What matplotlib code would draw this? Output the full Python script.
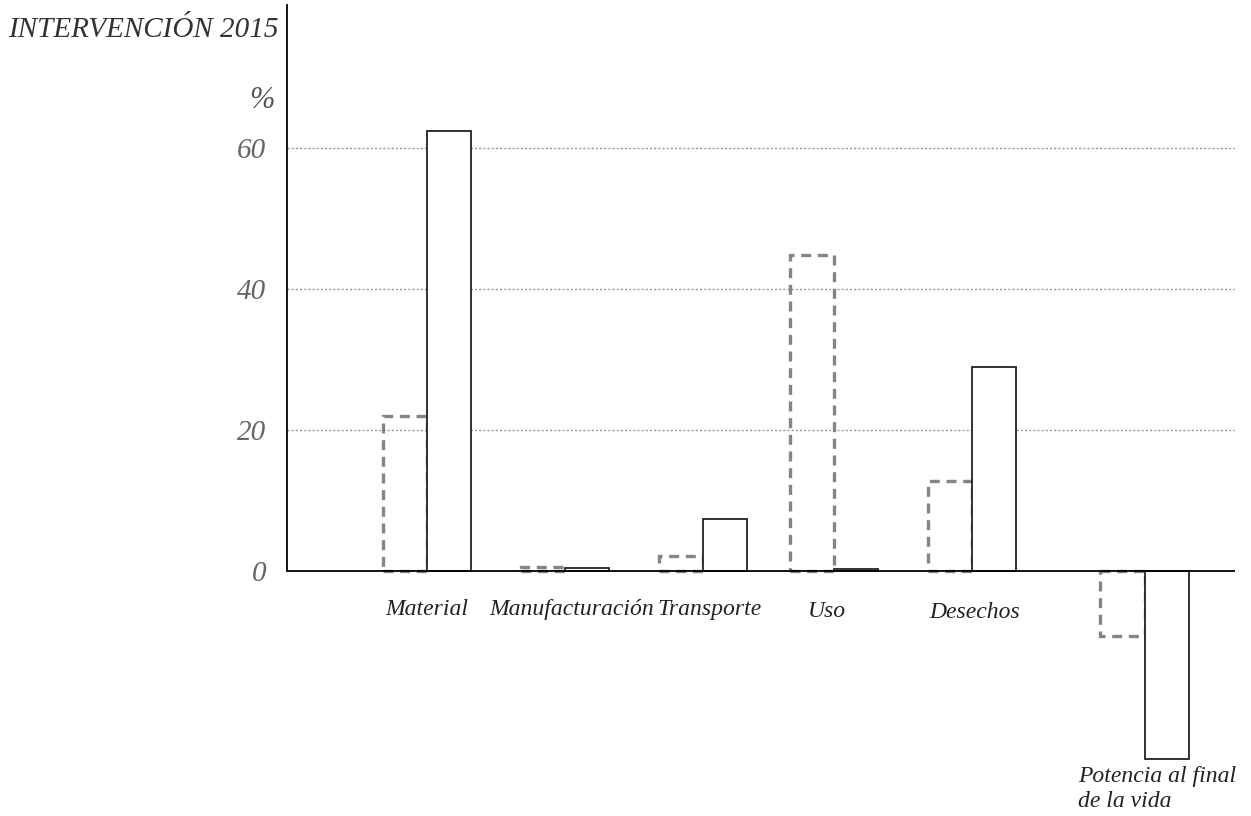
#! /usr/bin/env python3

import matplotlib
matplotlib.use("Agg")
import matplotlib.pyplot as plt

categories = ["Material", "Manufacturación", "Transporte", "Uso", "Desechos",
              "Potencia al final\nde la vida"]
dashed_values = [22.0, 0.6, 2.1, 44.8, 12.8, -9.2]
solid_values = [62.4, 0.4, 7.4, 0.3, 28.9, -26.6]
y_ticks = [0, 20, 40, 60]

# group centres (layout only)
group_x = [0.0, 1.0, 2.0, 2.95, 3.95, 5.2]
bar_w = 0.32


def main():
    plt.rcParams["font.family"] = ["Liberation Serif", "DejaVu Serif"]
    plt.rcParams["font.style"] = "italic"

    fig = plt.figure(figsize=(12.51, 8.16), dpi=100)
    W, H = 1251.0, 816.0
    left_px, right_px, top_px, bot_px = 287, 1235, 5, 780
    ax = fig.add_axes([left_px / W, 1 - bot_px / H,
                       (right_px - left_px) / W, (bot_px - top_px) / H])

    zero_px = 571
    px_per_unit = (571 - 148) / 60.0
    ymax = (zero_px - top_px) / px_per_unit
    ymin = -(bot_px - zero_px) / px_per_unit
    ax.set_ylim(ymin, ymax)
    x_per_unit = 138.0
    ax.set_xlim((left_px - 427) / x_per_unit, (right_px - 427) / x_per_unit)

    for y in y_ticks[1:]:
        ax.axhline(y, color="#999999", lw=1.0, ls=(0, (1.5, 1.5)), zorder=1)
    ax.axhline(0, color="black", lw=1.3, zorder=3)

    xs = group_x
    ax.bar([x - bar_w / 2 for x in xs], dashed_values, width=bar_w,
           facecolor="none", edgecolor="#858585", lw=2.4, ls=(0, (3, 2)), zorder=2)
    ax.bar([x + bar_w / 2 for x in xs], solid_values, width=bar_w,
           facecolor="white", edgecolor="#222222", lw=1.3, zorder=2)

    for sp in ["top", "right", "bottom"]:
        ax.spines[sp].set_visible(False)
    ax.spines["left"].set_bounds(0, ymax)
    ax.spines["left"].set_linewidth(1.3)

    ax.set_xticks([])
    ax.set_yticks(y_ticks)
    ax.set_yticklabels([str(t) for t in y_ticks])
    ax.tick_params(axis="y", length=0, pad=15, labelsize=21, labelcolor="#666666")

    ax.text(-0.013, 66.8, "%", transform=ax.get_yaxis_transform(),
            ha="right", va="center", fontsize=22, color="#555555")

    label_dx = [0.0, 0.05, 0.05, -0.05, 0.02]
    label_y = [-5.5, -5.5, -5.5, -5.7, -5.9]
    for i in range(5):
        ax.text(xs[i] + label_dx[i], label_y[i], categories[i], ha="center", va="center",
                fontsize=17, color="#222222")
    ax.text(xs[5] - 0.48, solid_values[5] - 1.0, categories[5], ha="left", va="top",
            fontsize=17, color="#222222", linespacing=1.25)

    fig.text(8 / W, 1 - 30 / H, "INTERVENCIÓN 2015", ha="left", va="center",
             fontsize=21, color="#333333")

    fig.savefig("out.png", dpi=100)


main()
